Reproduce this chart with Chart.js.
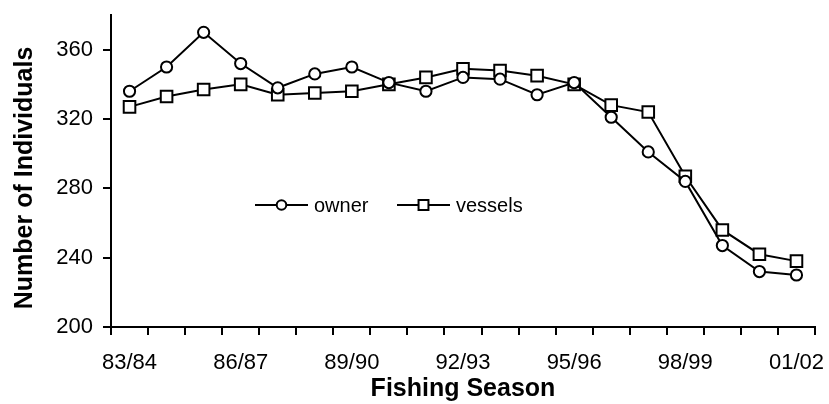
<!DOCTYPE html>
<html>
<head>
<meta charset="utf-8">
<script src="https://cdn.jsdelivr.net/npm/chart.js@4"></script>
<style>
  body { margin: 0; background: #fff; }
  #wrap { width: 829px; height: 404px; position: relative; }
</style>
</head>
<body>
<div id="wrap"><canvas id="seasonChart"></canvas></div>
<script>
// fishing seasons on the x axis
const seasons = ['83/84', '84/85', '85/86', '86/87', '87/88', '88/89', '89/90', '90/91', '91/92', '92/93',
                 '93/94', '94/95', '95/96', '96/97', '97/98', '98/99', '99/00', '00/01', '01/02'];
// number of owners and vessels per season
const owner   = [336, 350, 370, 352, 338, 346, 350, 341, 336, 344, 343, 334, 341, 321, 301, 284, 247, 232, 230];
const vessels = [327, 333, 337, 340, 334, 335, 336, 340, 344, 349, 348, 345, 340, 328, 324, 287, 256, 242, 238];
const yTicks = [200, 240, 280, 320, 360];

const FONT = '"Liberation Sans", Arial, sans-serif';

// legend drawn inside the plot, line + marker + label
const innerLegend = {
    id: 'innerLegend',
    afterDraw(chart) {
        const ctx = chart.ctx;
        const y = 205;
        const starts = [255, 397];
        chart.data.datasets.forEach((ds, i) => {
            const x0 = starts[i];
            ctx.save();
            ctx.strokeStyle = '#000';
            ctx.lineWidth = 2;
            ctx.beginPath();
            ctx.moveTo(x0, y);
            ctx.lineTo(x0 + 53, y);
            ctx.stroke();
            ctx.fillStyle = '#fff';
            Chart.helpers.drawPoint(ctx, {
                pointStyle: ds.pointStyle,
                radius: ds.pointStyle === 'circle' ? 4.8 : 7,
                borderWidth: 2
            }, x0 + 26.5, y);
            ctx.fillStyle = '#000';
            ctx.font = '20px ' + FONT;
            ctx.textBaseline = 'middle';
            ctx.fillText(ds.label, x0 + 59, y + 1);
            ctx.restore();
        });
    }
};

const ctx = document.getElementById('seasonChart').getContext('2d');
new Chart(ctx, {
    type: 'line',
    data: {
        labels: seasons,
        datasets: [
            {
                label: 'owner',
                data: owner,
                borderColor: '#000',
                borderWidth: 2,
                pointStyle: 'circle',
                pointRadius: 5.6,
                pointBorderWidth: 2,
                pointBackgroundColor: '#fff',
                pointBorderColor: '#000',
                tension: 0
            },
            {
                label: 'vessels',
                data: vessels,
                borderColor: '#000',
                borderWidth: 2,
                pointStyle: 'rect',
                pointRadius: 8.2,
                pointBorderWidth: 2,
                pointBackgroundColor: '#fff',
                pointBorderColor: '#000',
                tension: 0
            }
        ]
    },
    options: {
        responsive: true,
        maintainAspectRatio: false,
        animation: false,
        layout: { padding: { top: 15, right: 14, left: 0, bottom: 0 } },
        plugins: {
            legend: { display: false },
            tooltip: { enabled: false }
        },
        scales: {
            x: {
                type: 'category',
                offset: true,
                border: { display: true, color: '#000', width: 2 },
                grid: {
                    offset: true,
                    drawOnChartArea: false,
                    drawTicks: true,
                    tickLength: 8,
                    color: '#000',
                    lineWidth: 2
                },
                ticks: {
                    autoSkip: false,
                    maxRotation: 0,
                    padding: 15,
                    color: '#000',
                    font: { family: FONT, size: 22 },
                    callback: function (val, idx) {
                        return idx % 3 === 0 ? this.getLabelForValue(val) : '';
                    }
                },
                title: {
                    display: true,
                    text: 'Fishing Season',
                    color: '#000',
                    font: { family: FONT, size: 25, weight: 'bold', lineHeight: 1.2 },
                    padding: { top: 0, bottom: 0 }
                },
                afterFit: scale => {
                    scale.height = 77;
                    scale.paddingLeft = 0;
                    scale.paddingRight = 0;
                }
            },
            y: {
                min: 200,
                max: 380,
                border: { display: true, color: '#000', width: 2 },
                grid: {
                    drawOnChartArea: false,
                    drawTicks: true,
                    tickLength: 8,
                    color: '#000',
                    lineWidth: 2
                },
                afterBuildTicks: scale => { scale.ticks = yTicks.map(v => ({ value: v })); },
                ticks: {
                    padding: 10,
                    color: '#000',
                    font: { family: FONT, size: 22 }
                },
                title: {
                    display: true,
                    text: 'Number of Individuals  ',
                    color: '#000',
                    font: { family: FONT, size: 25, weight: 'bold', lineHeight: 1.2 },
                    padding: { top: 10, bottom: 0 }
                },
                afterFit: scale => {
                    scale.width = 111;
                    scale.paddingTop = 0;
                    scale.paddingBottom = 0;
                }
            }
        }
    },
    plugins: [innerLegend]
});
</script>
</body>
</html>
